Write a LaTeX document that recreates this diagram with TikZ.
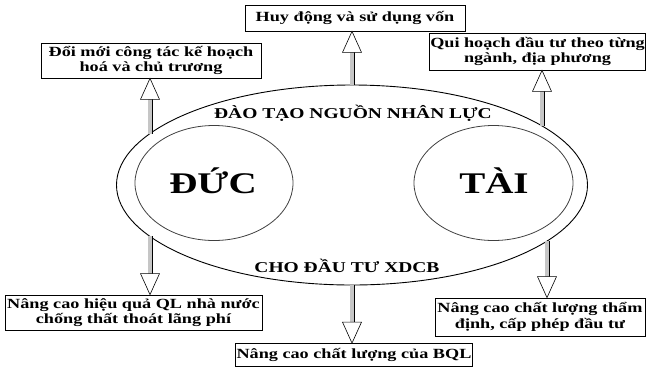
\documentclass[tikz,border=0pt]{standalone}
\usepackage{fontspec}
\setmainfont{Liberation Serif}[FakeStretch=1.3]
\usetikzlibrary{calc,shapes.geometric,decorations.markings}
\tikzset{
  box/.style={draw=black, line width=0.8pt, rectangle, inner sep=1pt, align=center,
    font=\bfseries\fontsize{14}{15.5}\selectfont},
  bigring/.style={draw=black, line width=0.9pt, ellipse, inner sep=0pt},
  ring/.style={draw=black!75, line width=0.8pt, ellipse, inner sep=0pt},
  bigword/.style={anchor=base, inner sep=0pt, font=\bfseries\fontsize{30}{32}\selectfont},
  ringword/.style={anchor=base, inner sep=0pt, font=\bfseries\fontsize{15}{16}\selectfont},
  hollow/.style={line width=5pt, draw=black,
    to path={(\tikztostart) -- ($(\tikztotarget)!21pt!(\tikztostart)$)},
    postaction={draw=gray!45, line width=3.2pt},
    postaction={decorate, decoration={markings, mark=at position 1 with {
      \draw[line width=0.6pt, draw=black, fill=white, line join=miter]
        (0,-9.5pt) -- (21pt,0) -- (0,9.5pt) -- cycle;}}}}
}
\begin{document}
\begin{tikzpicture}[x=1pt,y=-1pt]
\useasboundingbox (0,0) rectangle (648,368);
% central ellipse and rings
\node[bigring, minimum width=471pt, minimum height=200pt] (E) at (352,185) {};
\node[ring, minimum width=158pt, minimum height=115pt] (D) at (214,183) {};
\node[ring, minimum width=159pt, minimum height=115pt] (T) at (493.5,183) {};
\node[bigword] (wD) at (213,193) {ĐỨC};
\node[bigword] (wT) at (494,193) {TÀI};
\node[ringword] (l1) at (353,118) {ĐÀO TẠO NGUỒN NHÂN LỰC};
\node[ringword] (l2) at (347,272) {CHO ĐẦU TƯ XDCB};
% boxes
\node[box, minimum width=220pt, minimum height=26pt] (b1) at (355,18) {Huy động và sử dụng vốn};
\node[box, minimum width=220pt, minimum height=35pt] (b2) at (151,60.5) {Đổi mới công tác kế hoạch\\hoá và chủ trương};
\node[box, minimum width=215pt, minimum height=37pt] (b3) at (537.5,51.5) {Qui hoạch đầu tư theo từng\\ngành, địa phương};
\node[box, minimum width=257pt, minimum height=35pt] (b4) at (133.5,312.5) {Nâng cao hiệu quả QL nhà nước\\chống thất thoát lãng phí};
\node[box, minimum width=236pt, minimum height=23pt] (b5) at (354,355) {Nâng cao chất lượng của BQL};
\node[box, minimum width=210pt, minimum height=38pt] (b6) at (540,317) {Nâng cao chất lượng thẩm\\định, cấp phép đầu tư};
% arrow start points on the ellipse
\coordinate (s1) at (E.north);
\coordinate (s2) at (150,134);
\coordinate (s3) at (542,126);
\coordinate (s4) at (150,236);
\coordinate (s5) at (E.south);
\coordinate (s6) at (547,241);
% arrow end points on the boxes
\coordinate (t1) at (s1 |- b1.south);
\coordinate (t2) at (s2 |- b2.south);
\coordinate (t3) at (s3 |- b3.south);
\coordinate (t4) at (s4 |- b4.north);
\coordinate (t5) at (s5 |- b5.north);
\coordinate (t6) at (s6 |- b6.north);
\draw[hollow] (s1) to (t1);
\draw[hollow] (s2) to (t2);
\draw[hollow] (s3) to (t3);
\draw[hollow] (s4) to (t4);
\draw[hollow] (s5) to (t5);
\draw[hollow] (s6) to (t6);
\end{tikzpicture}
\end{document}
